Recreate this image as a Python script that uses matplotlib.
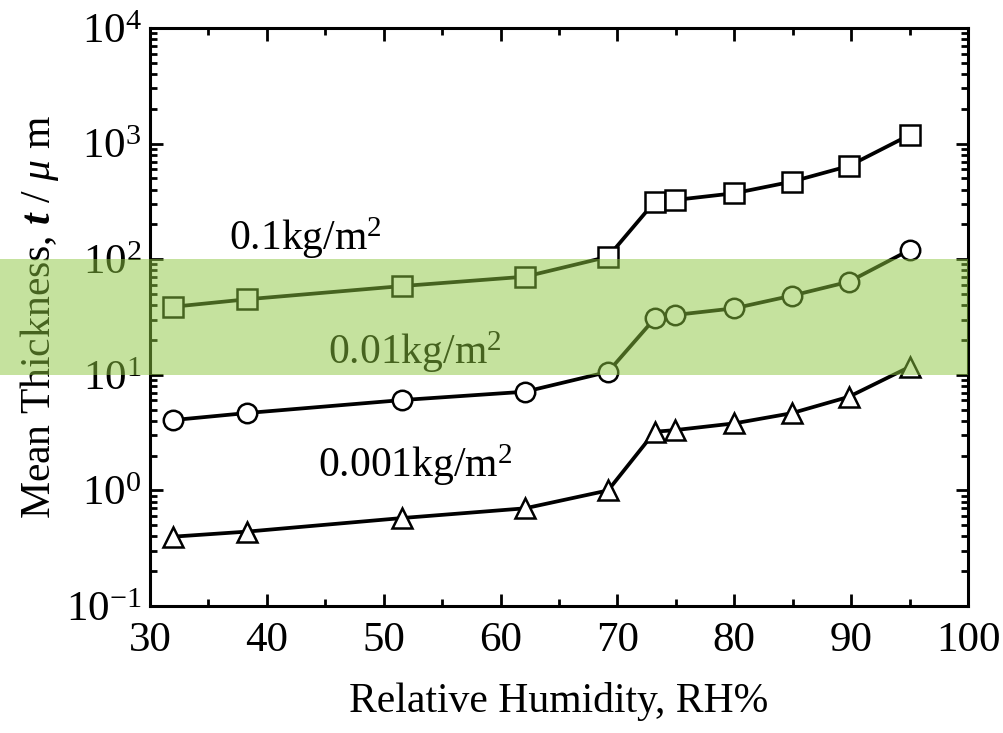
import matplotlib
matplotlib.use("Agg")
import matplotlib.pyplot as plt
from matplotlib.patches import Rectangle
from matplotlib.transforms import blended_transform_factory
from matplotlib.ticker import LogLocator, MultipleLocator, FixedLocator, NullFormatter

rh = [32.0, 38.3, 51.6, 62.1, 69.2, 73.2, 74.9, 80.0, 84.9, 89.8, 95.0]
t_01 = [38.8, 45.0, 58.6, 70.6, 105, 315, 325, 372, 468, 640, 1186]
t_001 = [4.06, 4.67, 6.05, 7.14, 10.6, 30.8, 32.9, 37.6, 48.3, 63.8, 120]
t_0001 = [0.398, 0.44, 0.577, 0.70, 1.0, 3.22, 3.32, 3.8, 4.65, 6.45, 11.7]
labels = ["0.1kg/m$^2$", "0.01kg/m$^2$", "0.001kg/m$^2$"]
xticks = [30, 40, 50, 60, 70, 80, 90, 100]
ydecades = [-1, 0, 1, 2, 3, 4]

plt.rcParams['font.family'] = ['Liberation Serif', 'DejaVu Serif']
plt.rcParams['mathtext.fontset'] = 'custom'
plt.rcParams['mathtext.rm'] = 'Liberation Serif'
plt.rcParams['mathtext.it'] = 'Liberation Serif:italic'
plt.rcParams['mathtext.bf'] = 'Liberation Serif:bold:italic'

fig = plt.figure(figsize=(10.04, 7.33), dpi=100)
L, B, R, T = 150/1004, 1 - 606/733, 968/1004, 1 - 28/733
ax = fig.add_axes([L, B, R - L, T - B])

lw = 2.7
mew = 1.8
ax.plot(rh, t_01, '-', color='black', lw=lw, marker='s', ms=15, mfc='white', mec='black', mew=mew)
ax.plot(rh, t_001, '-', color='black', lw=lw, marker='o', ms=14, mfc='white', mec='black', mew=mew)
ax.plot(rh, t_0001, '-', color='black', lw=lw, marker='^', ms=15, mfc='white', mec='black', mew=mew)

ax.set_yscale('log')
ax.set_xlim(30, 100)
ax.set_ylim(0.1, 1e4)
ax.xaxis.set_major_locator(FixedLocator(xticks))
ax.xaxis.set_minor_locator(MultipleLocator(5))
ax.yaxis.set_major_locator(FixedLocator([10.0**d for d in ydecades]))
ax.yaxis.set_minor_locator(LogLocator(base=10, subs=range(2, 10), numticks=20))
ax.yaxis.set_minor_formatter(NullFormatter())
ax.set_yticklabels([r"10$^{%d}$" % d for d in ydecades])
ax.set_xticklabels([str(v) for v in xticks])

ax.tick_params(which='both', direction='in', top=True, right=True, labelsize=31, width=2.0, pad=11)
ax.tick_params(which='major', length=9)
ax.tick_params(which='minor', length=5)
ax.tick_params(axis='y', labelright=False, pad=6)
for s in ax.spines.values():
    s.set_linewidth(2.2)

ax.set_xlabel("Relative Humidity, RH%", fontsize=30, labelpad=16)
ax.set_ylabel(r"Mean Thickness, $\mathbf{t}$ / $\mu$ m", fontsize=30, labelpad=4)

ax.text(36.8, 152, labels[0], fontsize=30, ha='left', va='center')
ax.text(45.2, 15.7, labels[1], fontsize=30, ha='left', va='center')
ax.text(44.4, 1.66, labels[2], fontsize=30, ha='left', va='center')

tr = blended_transform_factory(fig.transFigure, ax.transData)
band = Rectangle((0, 10), R, 90, transform=tr, facecolor='#8cc63f', alpha=0.5,
                 edgecolor='none', zorder=10, clip_on=False)
fig.add_artist(band)

fig.savefig("out.png", dpi=100)
